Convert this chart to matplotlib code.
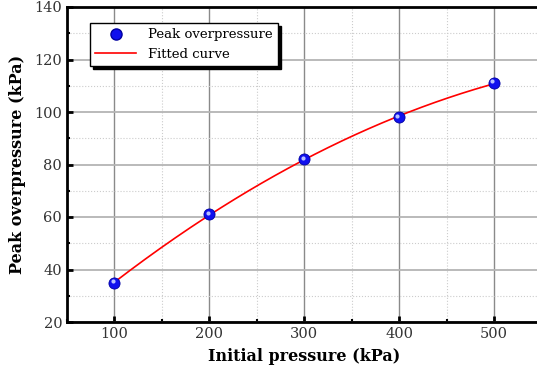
import numpy as np
import matplotlib
matplotlib.use("Agg")
import matplotlib.pyplot as plt
from matplotlib.ticker import MultipleLocator
import matplotlib.transforms as mtransforms
from matplotlib.lines import Line2D

initial_pressure = [100, 200, 300, 400, 500]
peak_overpressure = [35, 61, 82, 98, 111]

plt.rcParams['font.family'] = ['DejaVu Serif']

fig = plt.figure(figsize=(5.37, 3.72), dpi=100)
W, H = 537, 372
ax = fig.add_axes([67 / W, 50 / H, (541.5 - 67) / W, (322 - 7) / H])

ax.set_xlim(50, 550)
ax.set_ylim(20, 140)
ax.xaxis.set_major_locator(MultipleLocator(100))
ax.xaxis.set_minor_locator(MultipleLocator(50))
ax.yaxis.set_major_locator(MultipleLocator(20))
ax.yaxis.set_minor_locator(MultipleLocator(10))

ax.xaxis.grid(which='major', color='#8a8a8a', linewidth=1.0, linestyle='-')
ax.yaxis.grid(which='major', color='#b4b4b4', linewidth=1.3, linestyle='-')
ax.grid(which='minor', color='#cccccc', linewidth=0.8, linestyle=':')
ax.set_axisbelow(True)

for s in ax.spines.values():
    s.set_linewidth(2)
ax.tick_params(which='major', direction='in', length=4, width=2, labelsize=10.5,
               labelcolor='#333333', top=False, right=False)
ax.tick_params(which='minor', direction='in', length=2.5, width=1.5, top=False, right=False)

# fitted curve (quadratic fit of data)
coef = np.polyfit(initial_pressure, peak_overpressure, 2)
xf = np.linspace(min(initial_pressure), max(initial_pressure), 200)
ax.plot(xf, np.polyval(coef, xf), color='red', linewidth=1.2, zorder=3)

# spherical markers
ax.plot(initial_pressure, peak_overpressure, 'o', markersize=8, color='#1010ee',
        markeredgecolor='#0000a0', markeredgewidth=0.6, zorder=4)
hl = mtransforms.offset_copy(ax.transData, fig=fig, x=-1.2, y=1.2, units='points')
ax.plot(initial_pressure, peak_overpressure, 'o', markersize=3, color='#b8c0ff',
        markeredgewidth=0, transform=hl, zorder=5)

ax.set_xlabel('Initial pressure (kPa)', fontsize=11.5, fontweight='bold', labelpad=5)
ax.set_ylabel('Peak overpressure (kPa)', fontsize=11.5, fontweight='bold', labelpad=6)

handles = [Line2D([], [], marker='o', linestyle='none', markersize=8, color='#1010ee',
                  markeredgecolor='#0000a0'),
           Line2D([], [], color='red', linewidth=1.2)]
leg = ax.legend(handles, ['Peak overpressure', 'Fitted curve'], loc='upper left',
                bbox_to_anchor=(23 / 474.5, (322 - 23) / 315), borderaxespad=0,
                fancybox=False, edgecolor='black', framealpha=1,
                shadow={'color': 'black', 'alpha': 1},
                fontsize=9.5, handlelength=3.1, borderpad=0.4, labelspacing=0.5,
                handletextpad=0.9)
leg.get_frame().set_linewidth(1)

fig.savefig('out.png', dpi=100)
